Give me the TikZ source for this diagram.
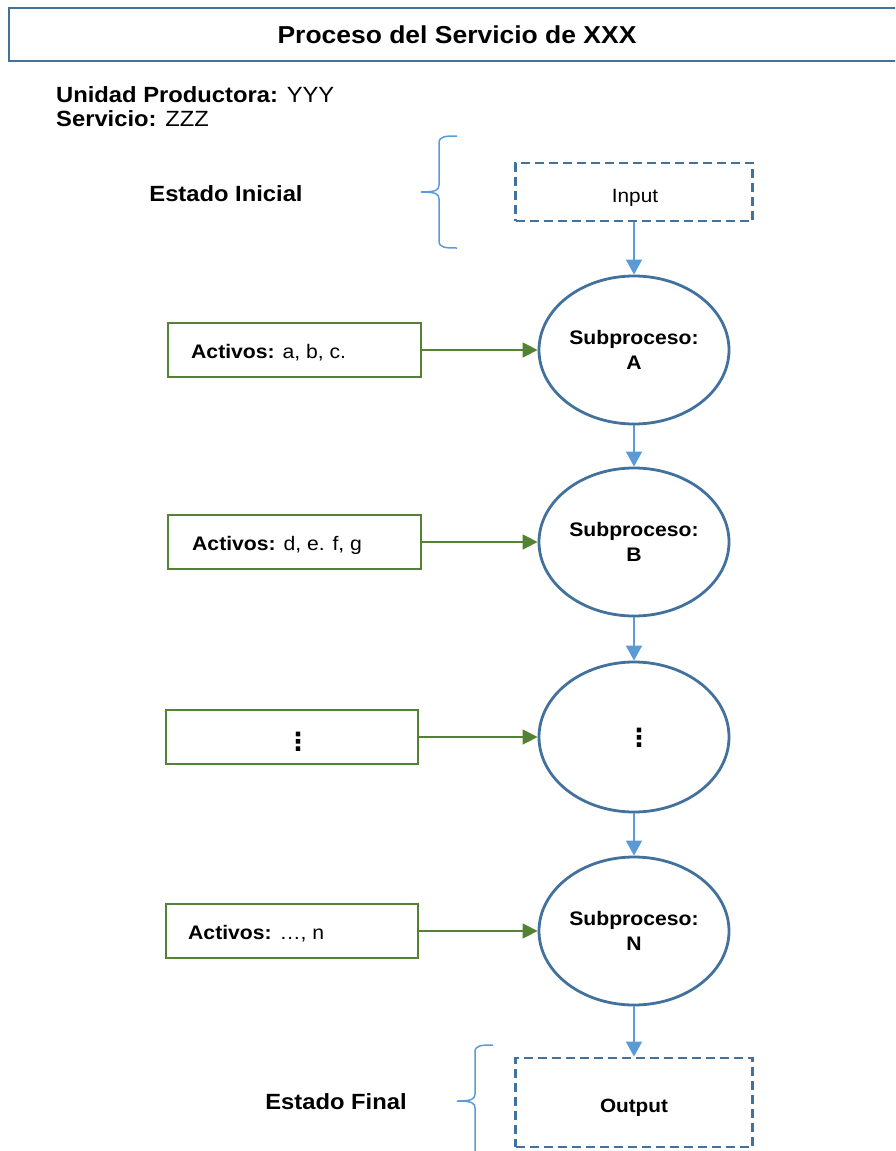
\documentclass[tikz,border=0pt]{standalone}
\usepackage{fontspec}
\setmainfont{Liberation Sans}[FakeStretch=1.08]
\newfontfamily\dotsfont{DejaVu Sans}
\usetikzlibrary{shapes.geometric,arrows.meta}
\definecolor{steel}{HTML}{41719C}
\definecolor{lblue}{HTML}{5B9BD5}
\definecolor{dgreen}{HTML}{548235}
\tikzset{
  titlebox/.style={draw=steel, line width=2.6pt, minimum width=896pt, minimum height=53pt, inner sep=0pt,
    font=\bfseries\fontsize{24.5}{28}\selectfont},
  hdr/.style={anchor=base west, inner sep=0pt, font=\fontsize{22}{26}\selectfont},
  estado/.style={anchor=base, inner sep=0pt, font=\bfseries\fontsize{22}{26}\selectfont},
  dashbox/.style={draw=steel, line width=2.8pt, dash pattern=on 9pt off 5pt, minimum width=237pt, inner sep=0pt},
  boxtext/.style={anchor=base, inner sep=0pt, font=\fontsize{19.2}{23}\selectfont},
  subp/.style={ellipse, draw=steel, line width=2.8pt, minimum width=190pt, minimum height=148pt, inner sep=0pt,
    align=center, font=\bfseries\fontsize{19.6}{24.5}\selectfont},
  actbox/.style={draw=dgreen, line width=2.8pt, minimum width=253pt, minimum height=54pt, inner sep=0pt},
  acttext/.style={anchor=base west, inner sep=0pt, font=\fontsize{19.6}{24}\selectfont},
  vdotstext/.style={inner sep=0pt, font=\dotsfont\bfseries\fontsize{25}{28}\selectfont},
  barrow/.style={draw=lblue, line width=1.6pt, -{Triangle[length=15pt,width=16pt]}},
  garrow/.style={draw=dgreen, line width=1.5pt, -{Triangle[length=15pt,width=15pt]}},
  bracestyle/.style={draw=lblue, line width=1.5pt}
}
\begin{document}
\begin{tikzpicture}[x=1pt,y=-1pt]
\useasboundingbox (0,0) rectangle (895,1151);
\clip (0,0) rectangle (895,1151);

% title
\node[titlebox] (title) at (457,34.5) {Proceso del Servicio de XXX};

\node[hdr] (unidad) at (56,102) {\textbf{Unidad Productora:} YYY};
\node[hdr] (servicio) at (56,126) {\textbf{Servicio:} ZZZ};

% estados
\node[estado] (einicial) at (226,201) {Estado Inicial};
\node[estado] (efinal) at (336,1109) {Estado Final};

% braces
\draw[bracestyle] (457,136) .. controls (446,136) and (439,136) .. (439,143) -- (439,185)
  .. controls (439,190) and (436,192) .. (421,192)
  .. controls (436,192) and (439,194) .. (439,199) -- (439,241)
  .. controls (439,248) and (446,248) .. (457,248);
\begin{scope}[shift={(36,909)}]
\draw[bracestyle] (457,136) .. controls (446,136) and (439,136) .. (439,143) -- (439,185)
  .. controls (439,190) and (436,192) .. (421,192)
  .. controls (436,192) and (439,194) .. (439,199) -- (439,241)
  .. controls (439,248) and (446,248) .. (457,248);
\end{scope}

% input / output
\node[dashbox, minimum height=58pt] (input) at (634,192) {};
\node[boxtext] (inputt) at (635,202) {Input};
\node[dashbox, minimum height=89pt] (output) at (634,1102.5) {};
\node[boxtext, font=\bfseries\fontsize{19.2}{23}\selectfont] (outputt) at (634,1112) {Output};

% subprocesses
\node[subp] (A) at (634,350) {Subproceso:\\A};
\node[subp] (B) at (634,542) {Subproceso:\\B};
\node[subp, minimum height=150pt] (D) at (634,737) {};
\node[vdotstext] (Dt) at (639,738) {⋮};
\node[subp] (N) at (634,931) {Subproceso:\\N};

% activos
\node[actbox] (box1) at (294.5,350) {};
\node[acttext] (t1) at (191,358) {\textbf{Activos:} a, b, c.};
\node[actbox] (box2) at (294.5,542) {};
\node[acttext] (t2) at (192,550) {\textbf{Activos:} d, e. f, g};
\node[actbox, minimum width=252pt] (box3) at (292,737) {};
\node[vdotstext] (t3) at (298,742) {⋮};
\node[actbox, minimum width=252pt] (box4) at (292,931) {};
\node[acttext] (t4) at (188,939) {\textbf{Activos:} …, n};

% arrows
\draw[barrow] (input.south) -- (A.north);
\draw[barrow] (A.south) -- (B.north);
\draw[barrow] (B.south) -- (D.north);
\draw[barrow] (D.south) -- (N.north);
\draw[barrow] (N.south) -- (output.north);

\draw[garrow] (box1.east) -- (A.west);
\draw[garrow] (box2.east) -- (B.west);
\draw[garrow] (box3.east) -- (D.west);
\draw[garrow] (box4.east) -- (N.west);
\end{tikzpicture}
\end{document}
